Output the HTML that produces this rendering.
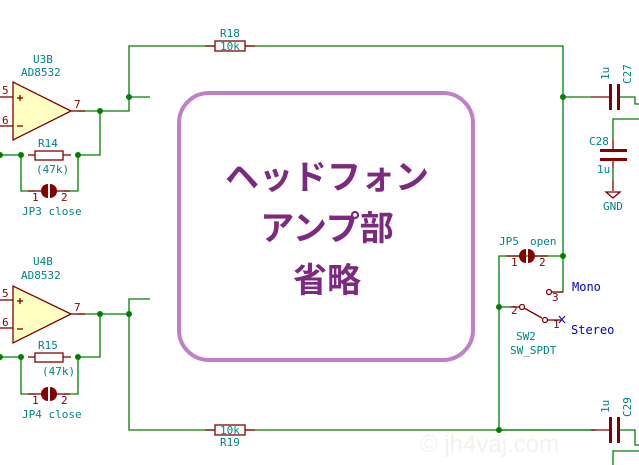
<!DOCTYPE html>
<html><head><meta charset="utf-8"><style>
html,body{margin:0;padding:0;background:#fff}
svg{display:block}
.t{font-family:"DejaVu Sans Mono","Liberation Mono",monospace;font-size:11px;fill:#008484}
.r{font-family:"DejaVu Sans Mono","Liberation Mono",monospace;font-size:11px;fill:#840000}
.b{font-family:"DejaVu Sans Mono","Liberation Mono",monospace;font-size:12px;fill:#0000c8}
.j{font-family:"Liberation Sans","Noto Sans CJK JP",sans-serif;font-size:34px;font-weight:bold;fill:#7b2a80}
</style></head><body>
<svg width="639" height="465" viewBox="0 0 639 465" xmlns="http://www.w3.org/2000/svg">
<g fill="none" stroke="#008000" stroke-width="1.3">
<polyline points="78,111 129,111 129,46 563,46 563,256 499,256 499,430 595,430"/>
<line x1="129" y1="97" x2="150" y2="97"/>
<polyline points="100,111 100,155 78,155"/>
<line x1="0" y1="155" x2="21" y2="155"/>
<polyline points="21,155 21,191 35,191"/><polyline points="78,155 78,191 64,191"/>
<polyline points="78,314 129,314"/>
<polyline points="150,299 129,299 129,430 595,430"/>
<polyline points="100,314 100,357 78,357"/>
<line x1="0" y1="357" x2="21" y2="357"/>
<polyline points="21,357 21,394 35,394"/><polyline points="78,357 78,394 64,394"/>
<line x1="563" y1="97" x2="591" y2="97"/>
<polyline points="620,97 635,97 635,104 639,104"/>
<polyline points="639,119 613,119 613,140"/>
<line x1="613" y1="168" x2="613" y2="180"/>
<polyline points="563,256 563,292 558,292"/>
<line x1="499" y1="307" x2="510" y2="307"/>
<polyline points="620,430 635,430 635,445 639,445"/>
<polyline points="639,451 613,451 613,465"/>
</g>
<g fill="#008000">
<circle cx="100" cy="111" r="3"/><circle cx="129" cy="97" r="3"/><circle cx="78" cy="155" r="3"/><circle cx="21" cy="155" r="3"/><circle cx="0" cy="155" r="3"/>
<circle cx="100" cy="314" r="3"/><circle cx="129" cy="314" r="3"/><circle cx="78" cy="357" r="3"/><circle cx="21" cy="357" r="3"/><circle cx="0" cy="357" r="3"/>
<circle cx="563" cy="97" r="3"/><circle cx="563" cy="256" r="3"/><circle cx="499" cy="307" r="3"/><circle cx="499" cy="430" r="3"/>
</g>
<g stroke="#840000" stroke-width="1.3" fill="none">
<polygon points="13,82 13,140 71,111" fill="#ffffc2"/>
<line x1="0" y1="97" x2="13" y2="97"/><line x1="0" y1="126" x2="13" y2="126"/><line x1="71" y1="111" x2="85" y2="111"/>
<line x1="17" y1="98" x2="23" y2="98"/><line x1="20" y1="95" x2="20" y2="101"/><line x1="17" y1="126" x2="23" y2="126"/>
<polygon points="13,286 13,343 71,314" fill="#ffffc2"/>
<line x1="0" y1="300" x2="13" y2="300"/><line x1="0" y1="328" x2="13" y2="328"/><line x1="71" y1="314" x2="85" y2="314"/>
<line x1="17" y1="301" x2="23" y2="301"/><line x1="20" y1="298" x2="20" y2="304"/><line x1="17" y1="329" x2="23" y2="329"/>
<line x1="28" y1="155" x2="35" y2="155"/><line x1="63" y1="155" x2="71" y2="155"/><rect x="35" y="151" width="28" height="9" fill="#fff"/>
<line x1="28" y1="357" x2="35" y2="357"/><line x1="63" y1="357" x2="71" y2="357"/><rect x="35" y="353" width="28" height="9" fill="#fff"/>
<line x1="205" y1="46" x2="255" y2="46"/><rect x="215" y="41" width="30" height="10" fill="#fff"/>
<line x1="205" y1="430" x2="255" y2="430"/><rect x="215" y="425" width="30" height="10" fill="#fff"/>
<line x1="28" y1="191" x2="42" y2="191"/><line x1="56" y1="191" x2="70" y2="191"/>
<line x1="28" y1="394" x2="42" y2="394"/><line x1="56" y1="394" x2="70" y2="394"/>
<line x1="506" y1="256" x2="520" y2="256"/><line x1="534" y1="256" x2="548" y2="256"/>
<line x1="591" y1="97" x2="610" y2="97"/>
<line x1="591" y1="430" x2="610" y2="430"/>
<line x1="613" y1="140" x2="613" y2="150"/><line x1="613" y1="159" x2="613" y2="168"/>
<line x1="613" y1="180" x2="613" y2="191"/>
<polygon points="606,192 620,192 613,198"/>
<circle cx="549" cy="292" r="2.5"/><line x1="551" y1="292" x2="563" y2="292"/>
<line x1="510" y1="307" x2="520" y2="307"/><circle cx="522" cy="307" r="2.5"/>
<line x1="524" y1="308" x2="542" y2="318"/>
<circle cx="545" cy="320" r="2.5"/><line x1="547" y1="320" x2="561" y2="320"/>
</g>
<g fill="#840000">
<path d="M48,184 a7,7 0 0 0 0,14 z"/><path d="M50,184 a7,7 0 0 1 0,14 z"/>
<path d="M48,387 a7,7 0 0 0 0,14 z"/><path d="M50,387 a7,7 0 0 1 0,14 z"/>
<path d="M526,249 a7,7 0 0 0 0,14 z"/><path d="M528,249 a7,7 0 0 1 0,14 z"/>
<rect x="609" y="84" width="3" height="26"/><rect x="617" y="84" width="3" height="26"/>
<rect x="609" y="417" width="3" height="26"/><rect x="617" y="417" width="3" height="26"/>
<rect x="600" y="149" width="27" height="3"/><rect x="600" y="158" width="27" height="3"/>
</g>
<path d="M559,316 l6,7 M565,316 l-6,7" stroke="#0000c8" stroke-width="1"/>
<rect x="179" y="93" width="294" height="267" rx="30" fill="#fff" stroke="#c080c8" stroke-width="4"/>
<text class="j" x="327" y="189" text-anchor="middle">ヘッドフォン</text>
<text class="j" x="327" y="240" text-anchor="middle">アンプ部</text>
<text class="j" x="327" y="292" text-anchor="middle">省略</text>
<g class="t">
<text x="33" y="63">U3B</text><text x="21" y="76">AD8532</text>
<text x="38" y="147">R14</text><text x="36" y="173">(47k)</text><text x="22" y="215">JP3 close</text>
<text x="33" y="265">U4B</text><text x="21" y="279">AD8532</text>
<text x="38" y="349">R15</text><text x="42" y="375">(47k)</text><text x="22" y="418">JP4 close</text>
<text x="220" y="37">R18</text><text x="220" y="50">10k</text>
<text x="220" y="434">10k</text><text x="220" y="446">R19</text>
<text x="499" y="245">JP5</text><text x="530" y="245">open</text>
<text x="516" y="340">SW2</text><text x="510" y="354">SW_SPDT</text>
<text x="589" y="145">C28</text><text x="597" y="173">1u</text><text x="603" y="210">GND</text>
<text transform="translate(609,80) rotate(-90)">1u</text><text transform="translate(631,84) rotate(-90)">C27</text>
<text transform="translate(609,413) rotate(-90)">1u</text><text transform="translate(631,417) rotate(-90)">C29</text>
</g>
<g class="r">
<text x="2" y="94">5</text><text x="2" y="124">6</text><text x="74" y="108">7</text>
<text x="2" y="297">5</text><text x="2" y="326">6</text><text x="74" y="311">7</text>
<text x="32" y="201">1</text><text x="61" y="201">2</text>
<text x="32" y="404">1</text><text x="61" y="404">2</text>
<text x="511" y="266">1</text><text x="539" y="266">2</text>
<text x="552" y="301">3</text><text x="511" y="314">2</text><text x="553" y="328">1</text>
</g>
<text class="b" x="572" y="291">Mono</text><text class="b" x="571" y="334">Stereo</text>
<text x="420" y="452" font-family="Liberation Sans,sans-serif" font-size="24" fill="#f6f0ea">© jh4vaj.com</text>
</svg>
</body></html>
